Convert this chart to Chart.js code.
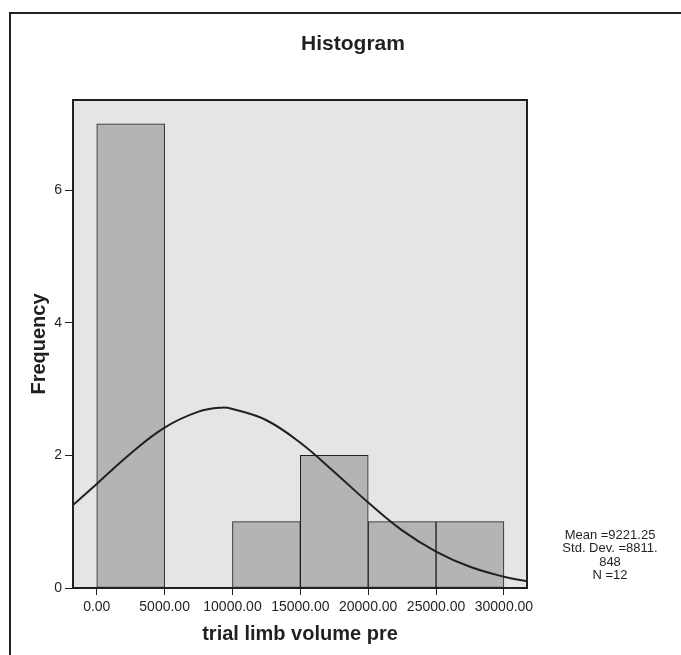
<!DOCTYPE html>
<html lang="en">
	<head>
		<meta charset="UTF-8" />
		<title>Histogram</title>
		<script src="https://cdn.jsdelivr.net/npm/chart.js@4.4.1/dist/chart.umd.min.js"></script>
		<style>
			html, body { margin: 0; padding: 0; background: #fff; }
			#wrap { width: 681px; height: 655px; }
		</style>
	</head>
	<body>
		<div id="wrap"><canvas id="histChart" width="681" height="655"></canvas></div>

		<script>
			// bins (centre of each 5000-wide bin) and counts
			const binCenters = [2500, 7500, 12500, 17500, 22500, 27500];
			const binCounts = [7, 0, 1, 2, 1, 1];

			// normal curve
			const curveX = [-1750, 0, 2500, 5000, 7500, 9221, 10000, 12500, 15000, 17500, 20000, 22500, 25000, 27500, 30000, 31700];
			const curveY = [1.25, 1.57, 2.03, 2.42, 2.66, 2.72, 2.70, 2.53, 2.19, 1.75, 1.29, 0.87, 0.55, 0.32, 0.17, 0.10];

			const xTickValues = [0, 5000, 10000, 15000, 20000, 25000, 30000];
			const xTickLabels = ["0.00", "5000.00", "10000.00", "15000.00", "20000.00", "25000.00", "30000.00"];
			const yTickValues = [0, 2, 4, 6];

			const statLines = ["Mean =9221.25", "Std. Dev. =8811.", "848", "N =12"];

			const ink = "#231f20";
			const fam = "'Liberation Sans', Arial, sans-serif";

			// frame, plot background, title and stats box
			const decor = {
				id: "decor",
				beforeDraw(chart) {
					const { ctx, chartArea: a } = chart;
					ctx.save();
					ctx.fillStyle = "#fff";
					ctx.fillRect(0, 0, chart.width, chart.height);
					ctx.strokeStyle = ink;
					ctx.lineWidth = 2;
					ctx.strokeRect(10, 13, chart.width + 20, chart.height + 20);
					ctx.fillStyle = "#e5e5e7";
					ctx.fillRect(a.left, a.top, a.right - a.left, a.bottom - a.top);
					ctx.restore();
				},
				afterDraw(chart) {
					const { ctx, chartArea: a } = chart;
					ctx.save();
					ctx.strokeStyle = ink;
					ctx.lineWidth = 2;
					ctx.strokeRect(a.left, a.top, a.right - a.left, a.bottom - a.top);
					ctx.fillStyle = ink;
					ctx.textAlign = "center";
					ctx.textBaseline = "middle";
					ctx.font = "bold 21px " + fam;
					ctx.fillText("Histogram", 353, 44);
					ctx.font = "13px " + fam;
					statLines.forEach((s, i) => ctx.fillText(s, 610, 535 + i * 13.5));
					ctx.restore();
				},
			};

			const ctx = document.getElementById("histChart").getContext("2d");
			const myChart = new Chart(ctx, {
				type: "bar",
				data: {
					datasets: [
						{
							type: "line",
							data: curveX.map((x, i) => ({ x: x, y: curveY[i] })),
							borderColor: ink,
							borderWidth: 2,
							pointRadius: 0,
							tension: 0.4,
							fill: false,
							order: 0,
						},
						{
							type: "bar",
							data: binCenters.map((x, i) => ({ x: x, y: binCounts[i] })),
							backgroundColor: "#b4b4b6",
							borderColor: ink,
							borderWidth: 1,
							borderSkipped: false,
							barPercentage: 1,
							categoryPercentage: 1,
							order: 1,
						},
					],
				},
				options: {
					responsive: false,
					animation: false,
					layout: { padding: { left: 0, top: 100, right: 154, bottom: 0 } },
					plugins: {
						legend: { display: false },
						tooltip: { enabled: false },
						title: { display: false },
					},
					scales: {
						x: {
							type: "linear",
							min: -1750,
							max: 31700,
							offset: false,
							border: { display: false },
							grid: { offset: false, drawOnChartArea: false, tickLength: 7, tickColor: ink },
							afterBuildTicks: (s) => { s.ticks = xTickValues.map((v) => ({ value: v })); },
							ticks: {
								autoSkip: false,
								maxRotation: 0,
								padding: 4,
								color: ink,
								font: { family: fam, size: 14 },
								callback: (v, i) => xTickLabels[i],
							},
							title: {
								display: true,
								text: "trial limb volume pre",
								color: ink,
								font: { family: fam, size: 20, weight: "bold" },
								padding: { top: 0, bottom: 9 },
							},
							afterFit: (s) => { s.height = 67; },
						},
						y: {
							min: 0,
							max: 7.36,
							border: { display: false },
							grid: { drawOnChartArea: false, tickLength: 8, tickColor: ink },
							afterBuildTicks: (s) => { s.ticks = yTickValues.map((v) => ({ value: v })); },
							ticks: {
								padding: 3,
								color: ink,
								font: { family: fam, size: 14 },
							},
							title: {
								display: true,
								text: "Frequency",
								color: ink,
								font: { family: fam, size: 20, weight: "bold" },
								padding: { top: 27, bottom: 0 },
							},
							afterFit: (s) => { s.width = 73; },
						},
					},
				},
				plugins: [decor],
			});
		</script>
	</body>
</html>
